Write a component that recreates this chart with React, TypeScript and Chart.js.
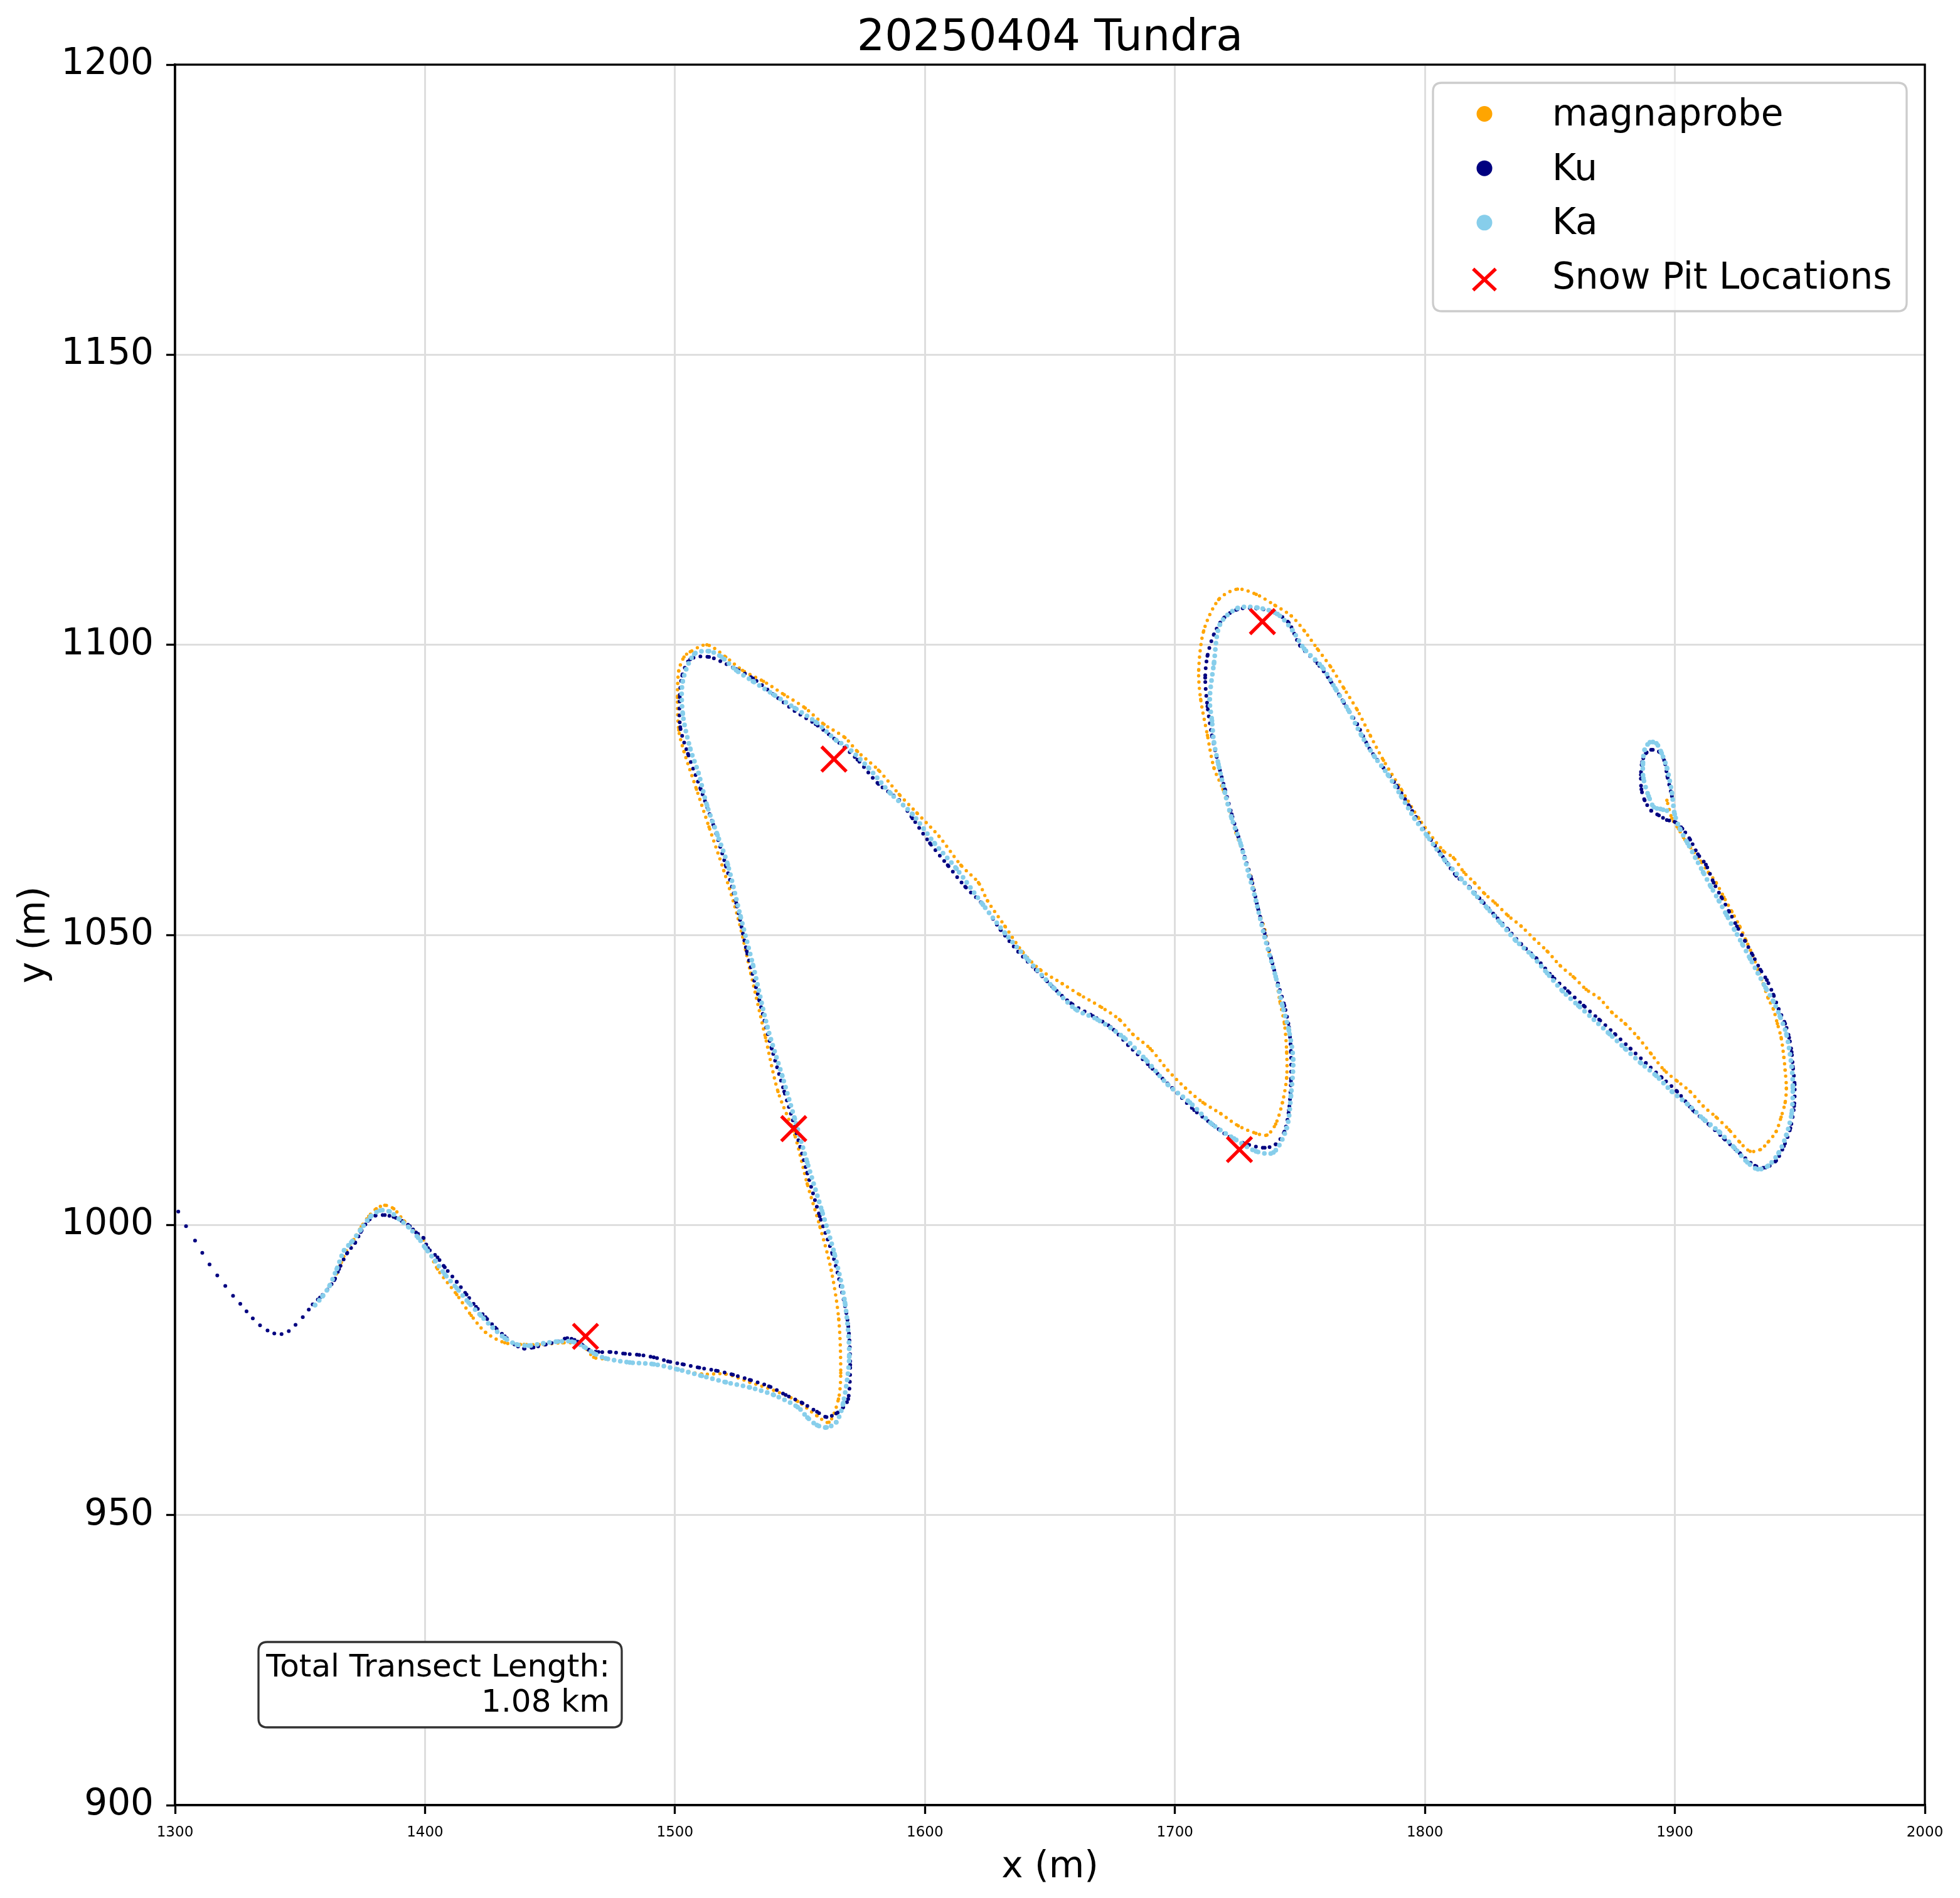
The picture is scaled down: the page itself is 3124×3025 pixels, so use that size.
import React, { useEffect, useRef } from "react";
import { Chart, registerables } from "chart.js";

Chart.register(...registerables);

const chartTitle = "20250404 Tundra";
const xAxisLabel = "x (m)";
const yAxisLabel = "y (m)";
const xTickValues = [1300, 1400, 1500, 1600, 1700, 1800, 1900, 2000];
const yTickValues = [900, 950, 1000, 1050, 1100, 1150, 1200];
const seriesNames = ["magnaprobe", "Ku", "Ka", "Snow Pit Locations"];
const seriesColors = ["#FFA500", "#000080", "#87CEEB", "#FF0000"];
const annotationLines = ["Total Transect Length:", "1.08 km"];

const magnaprobeTrack: [number, number][] = [
  [1360.8, 988.8], [1363.5, 990.5], [1366.0, 993.0], [1368.5, 995.5], [1371.5, 997.5], [1374.5, 999.7],
  [1377.5, 1001.5], [1380.5, 1002.8], [1383.9, 1003.4], [1387.5, 1002.8], [1391.6, 1000.7], [1395.5, 999.0],
  [1399.3, 997.4], [1405.0, 992.4], [1412.7, 988.0], [1418.5, 984.4], [1424.2, 981.5], [1431.9, 979.7],
  [1439.6, 979.4], [1447.3, 979.4], [1455.0, 979.7], [1462.7, 979.4], [1467.5, 977.2], [1472.3, 976.9],
  [1481.9, 976.3], [1491.5, 976.0], [1501.1, 975.2], [1510.7, 974.3], [1520.3, 974.3], [1529.9, 972.9],
  [1539.5, 971.5], [1549.1, 969.6], [1556.8, 967.1], [1561.6, 966.0], [1565.4, 970.0], [1566.3, 974.5],
  [1565.5, 983.8], [1562.5, 992.2], [1558.0, 999.7], [1552.9, 1007.1], [1547.9, 1015.5], [1541.2, 1023.0],
  [1536.2, 1032.3], [1530.3, 1043.4], [1525.3, 1052.8], [1519.5, 1061.1], [1513.6, 1068.6], [1508.6, 1075.1],
  [1503.6, 1081.6], [1501.5, 1085.3], [1501.0, 1090.9], [1501.5, 1095.5], [1503.6, 1097.9], [1506.1, 1098.8],
  [1512.8, 1100.0], [1520.3, 1097.9], [1527.0, 1095.6], [1535.4, 1093.7], [1543.7, 1091.4], [1552.1, 1089.1],
  [1559.6, 1086.3], [1568.0, 1084.0], [1573.0, 1081.6], [1581.4, 1078.4], [1589.7, 1074.2], [1596.8, 1071.0],
  [1605.6, 1067.0], [1614.4, 1062.0], [1621.4, 1059.0], [1625.0, 1055.9], [1632.0, 1051.5], [1639.0, 1047.1],
  [1646.1, 1044.0], [1654.9, 1041.6], [1661.9, 1039.7], [1670.7, 1037.5], [1677.8, 1035.4], [1683.1, 1032.9],
  [1690.1, 1030.4], [1697.1, 1026.7], [1704.2, 1023.6], [1711.2, 1021.1], [1718.3, 1019.2], [1725.3, 1017.1],
  [1732.4, 1015.8], [1736.8, 1015.5], [1740.3, 1017.4], [1743.0, 1021.1], [1744.7, 1025.4], [1744.7, 1029.8],
  [1743.8, 1034.7], [1742.0, 1038.5], [1740.3, 1042.8], [1737.6, 1047.1], [1735.9, 1050.9], [1733.2, 1054.6],
  [1730.6, 1059.6], [1728.0, 1063.3], [1724.4, 1067.6], [1721.8, 1071.3], [1719.2, 1075.1], [1715.6, 1078.8],
  [1713.0, 1084.4], [1710.3, 1090.6], [1709.5, 1095.6], [1711.5, 1102.4], [1717.5, 1107.8], [1725.0, 1109.6],
  [1732.5, 1108.7], [1740.0, 1106.8], [1746.5, 1105.0], [1751.8, 1102.4], [1757.0, 1099.3], [1762.3, 1096.2],
  [1767.6, 1092.5], [1772.9, 1088.8], [1778.1, 1084.4], [1783.4, 1080.1], [1790.5, 1075.1], [1797.5, 1070.1],
  [1807.3, 1064.5], [1811.4, 1063.3], [1815.6, 1060.8], [1819.8, 1059.0], [1823.9, 1057.1], [1828.1, 1055.5],
  [1833.3, 1053.3], [1838.5, 1051.5], [1843.7, 1049.3], [1848.9, 1047.2], [1854.1, 1044.7], [1859.3, 1042.8],
  [1864.5, 1040.6], [1869.7, 1039.1], [1874.9, 1036.6], [1880.1, 1034.7], [1885.3, 1032.3], [1890.5, 1029.5],
  [1895.7, 1026.7], [1900.9, 1024.8], [1906.1, 1023.0], [1911.3, 1020.5], [1916.5, 1018.6], [1921.7, 1016.4],
  [1925.9, 1014.3], [1930.1, 1012.7], [1934.2, 1013.0], [1937.3, 1014.3], [1940.5, 1016.1], [1942.5, 1018.6],
  [1944.1, 1021.1], [1944.6, 1023.6], [1944.1, 1026.7], [1943.6, 1028.9], [1942.5, 1032.3], [1941.0, 1034.7],
  [1939.4, 1037.2], [1937.3, 1039.1], [1935.3, 1041.6], [1933.2, 1044.0], [1931.1, 1046.5], [1928.5, 1049.0],
  [1925.9, 1051.5], [1922.8, 1054.0], [1919.6, 1056.5], [1916.5, 1059.0], [1913.4, 1060.8], [1910.3, 1062.7],
  [1907.2, 1064.5], [1904.0, 1066.4], [1901.4, 1068.3], [1898.8, 1070.1], [1896.8, 1073.2],
];

const kuTrack: [number, number][] = [
  [1301.3, 1002.3], [1304.4, 999.8], [1308.0, 997.3], [1310.9, 995.2], [1313.8, 993.2], [1316.9, 991.3],
  [1320.1, 989.5], [1323.2, 987.8], [1326.1, 986.4], [1328.6, 985.1], [1331.1, 983.9], [1334.0, 982.7],
  [1337.0, 981.8], [1339.7, 981.3], [1342.6, 981.2], [1345.5, 981.7], [1348.2, 982.8], [1351.1, 984.1],
  [1353.5, 985.4], [1355.1, 986.3], [1358.0, 987.5], [1360.8, 988.8], [1363.7, 990.5], [1365.6, 992.4],
  [1368.9, 995.2], [1372.0, 996.9], [1374.3, 998.8], [1377.2, 1000.7], [1380.1, 1001.6], [1383.9, 1001.7],
  [1387.4, 1001.4], [1390.6, 1000.7], [1393.9, 999.8], [1396.4, 998.7], [1399.3, 997.8], [1401.2, 996.0],
  [1405.0, 994.4], [1407.9, 992.7], [1412.7, 990.2], [1416.6, 988.0], [1420.4, 985.9], [1424.2, 984.1],
  [1428.1, 982.3], [1431.9, 980.8], [1435.8, 979.4], [1439.6, 978.7], [1443.4, 978.9], [1448.3, 979.4],
  [1453.0, 979.9], [1456.9, 980.5], [1459.8, 980.2], [1462.7, 979.4], [1465.5, 978.5], [1469.4, 978.1],
  [1474.2, 978.1], [1480.0, 977.8], [1485.7, 977.6], [1491.5, 977.2], [1497.2, 976.5], [1503.0, 976.0],
  [1509.7, 975.4], [1516.4, 974.9], [1523.2, 974.2], [1529.9, 973.3], [1537.6, 972.2], [1544.3, 970.7],
  [1551.0, 969.3], [1556.8, 967.8], [1560.6, 966.9], [1564.5, 967.5], [1567.3, 968.6], [1569.3, 970.0],
  [1570.1, 975.9], [1569.2, 983.0], [1566.3, 989.4], [1563.0, 995.0], [1557.9, 1001.5], [1552.9, 1009.0],
  [1547.9, 1016.9], [1543.7, 1023.0], [1538.7, 1030.4], [1533.7, 1038.8], [1528.7, 1047.2], [1524.5, 1055.5],
  [1520.3, 1062.0], [1515.3, 1069.0], [1510.3, 1075.1], [1505.2, 1081.2], [1502.1, 1085.8], [1501.9, 1091.0],
  [1502.9, 1094.7], [1506.1, 1097.5], [1513.6, 1097.9], [1524.5, 1095.8], [1531.2, 1094.2], [1539.5, 1091.4],
  [1547.9, 1088.6], [1556.3, 1086.3], [1564.6, 1083.5], [1573.0, 1080.2], [1581.4, 1076.0], [1589.7, 1073.2],
  [1595.0, 1070.1], [1602.0, 1065.8], [1609.1, 1062.0], [1616.1, 1058.3], [1623.2, 1055.2], [1630.2, 1050.9],
  [1637.3, 1047.1], [1644.3, 1044.0], [1651.4, 1040.9], [1658.4, 1038.2], [1667.2, 1036.0], [1674.3, 1034.1],
  [1681.3, 1031.0], [1690.1, 1027.3], [1698.9, 1023.6], [1707.7, 1019.8], [1714.8, 1017.4], [1721.8, 1015.2],
  [1728.8, 1013.9], [1735.9, 1013.3], [1740.3, 1013.9], [1743.8, 1016.1], [1745.6, 1019.8], [1746.4, 1024.8],
  [1746.4, 1029.8], [1745.6, 1034.1], [1743.8, 1037.8], [1741.2, 1041.6], [1738.5, 1045.9], [1735.9, 1050.3],
  [1733.2, 1054.6], [1730.6, 1059.6], [1728.0, 1063.3], [1725.3, 1067.0], [1722.7, 1070.8], [1720.0, 1075.1],
  [1717.4, 1079.4], [1714.8, 1084.4], [1713.0, 1089.4], [1712.1, 1094.3], [1713.0, 1098.1], [1715.6, 1101.8],
  [1719.5, 1104.6], [1725.0, 1106.1], [1732.5, 1106.3], [1740.0, 1105.5], [1745.5, 1103.8], [1750.0, 1099.9],
  [1757.0, 1096.8], [1762.3, 1093.7], [1767.6, 1090.0], [1772.9, 1086.3], [1778.1, 1081.9], [1783.4, 1078.8],
  [1788.7, 1075.7], [1794.0, 1072.0], [1799.3, 1068.3], [1806.3, 1064.0], [1812.5, 1060.2], [1817.7, 1058.3],
  [1822.9, 1055.8], [1828.1, 1053.3], [1833.3, 1050.9], [1838.5, 1048.4], [1844.7, 1045.9], [1851.0, 1042.8],
  [1857.2, 1040.3], [1863.5, 1037.8], [1869.7, 1035.4], [1876.0, 1032.9], [1882.2, 1030.4], [1888.4, 1027.9],
  [1894.7, 1025.4], [1900.9, 1023.0], [1907.2, 1019.8], [1913.4, 1017.4], [1919.6, 1014.9], [1925.9, 1012.4],
  [1932.1, 1010.2], [1936.3, 1009.9], [1940.5, 1011.1], [1943.6, 1013.6], [1946.2, 1016.7], [1947.7, 1020.5],
  [1947.9, 1024.2], [1947.2, 1027.3], [1946.7, 1029.8], [1945.7, 1032.3], [1944.1, 1034.7], [1941.5, 1037.2],
  [1939.4, 1039.7], [1936.8, 1042.2], [1934.2, 1044.0], [1931.1, 1046.5], [1928.0, 1049.0], [1924.8, 1051.5],
  [1921.7, 1054.0], [1918.6, 1056.5], [1915.5, 1059.0], [1912.4, 1062.1], [1909.2, 1063.9], [1906.1, 1066.4],
  [1903.0, 1068.3], [1899.9, 1069.5], [1896.8, 1069.8], [1893.6, 1070.6], [1890.5, 1071.4], [1887.9, 1073.2],
  [1886.6, 1075.1], [1886.4, 1077.6], [1886.9, 1079.8], [1888.4, 1081.3], [1890.5, 1081.9], [1893.6, 1081.6],
  [1895.7, 1080.1], [1897.0, 1077.3], [1898.8, 1073.9],
];

const kaTrack: [number, number][] = [
  [1356.0, 986.2], [1359.0, 987.7], [1361.8, 989.5], [1364.7, 992.4], [1367.6, 995.6], [1370.5, 997.0],
  [1374.3, 999.2], [1378.1, 1001.4], [1382.0, 1002.5], [1385.8, 1002.3], [1389.7, 1001.0], [1393.5, 999.6],
  [1397.3, 997.8], [1400.2, 996.0], [1404.1, 993.8], [1407.9, 991.5], [1412.7, 989.1], [1417.5, 986.6],
  [1422.3, 984.4], [1427.1, 982.3], [1431.9, 980.5], [1436.7, 979.4], [1441.5, 979.2], [1447.3, 979.6],
  [1453.0, 979.9], [1458.8, 979.9], [1463.6, 979.0], [1467.5, 977.9], [1472.3, 977.0], [1481.9, 976.3],
  [1491.5, 976.0], [1501.1, 975.1], [1510.7, 974.0], [1520.3, 972.9], [1529.9, 972.0], [1539.5, 970.7],
  [1549.1, 968.6], [1553.0, 966.8], [1556.8, 965.5], [1560.6, 965.1], [1564.5, 966.0], [1567.3, 969.3],
  [1569.7, 977.3], [1568.0, 986.6], [1563.8, 995.0], [1558.8, 1002.4], [1552.9, 1010.8], [1547.9, 1018.3],
  [1542.9, 1025.7], [1537.0, 1034.1], [1531.2, 1044.8], [1526.2, 1053.2], [1521.1, 1062.1], [1517.0, 1067.2],
  [1512.8, 1072.3], [1509.4, 1077.9], [1506.1, 1082.1], [1503.1, 1088.1], [1503.1, 1093.7], [1507.7, 1098.4],
  [1513.6, 1098.9], [1518.6, 1097.9], [1524.5, 1095.6], [1531.2, 1093.7], [1539.5, 1091.4], [1547.9, 1089.1],
  [1556.3, 1086.7], [1564.6, 1083.5], [1568.6, 1082.5], [1577.4, 1078.8], [1586.2, 1074.4], [1595.0, 1070.8],
  [1603.8, 1065.8], [1612.6, 1061.4], [1623.2, 1055.2], [1632.0, 1050.3], [1640.8, 1045.9], [1651.4, 1040.9],
  [1660.2, 1037.2], [1669.0, 1035.4], [1679.5, 1032.3], [1688.3, 1028.5], [1697.1, 1024.2], [1706.0, 1021.1],
  [1714.8, 1017.4], [1723.6, 1014.9], [1732.4, 1012.7], [1739.4, 1012.5], [1744.7, 1016.7], [1746.4, 1022.3],
  [1747.3, 1028.5], [1745.6, 1033.5], [1743.0, 1037.8], [1740.3, 1042.8], [1735.9, 1049.6], [1732.4, 1055.9],
  [1729.7, 1060.2], [1726.2, 1065.8], [1722.7, 1070.1], [1720.0, 1074.5], [1717.4, 1079.4], [1715.6, 1083.2],
  [1714.8, 1086.9], [1713.9, 1090.6], [1715.6, 1096.8], [1718.0, 1103.5], [1725.0, 1106.3], [1733.0, 1106.4],
  [1741.0, 1105.3], [1747.0, 1102.5], [1751.7, 1099.3], [1758.8, 1096.2], [1764.1, 1092.5], [1769.3, 1088.8],
  [1774.6, 1084.4], [1779.9, 1080.7], [1785.2, 1077.6], [1790.5, 1073.9], [1795.8, 1070.1], [1801.0, 1067.0],
  [1808.1, 1062.8], [1814.6, 1059.6], [1819.8, 1057.1], [1825.0, 1054.6], [1830.2, 1052.1], [1836.4, 1049.0],
  [1842.7, 1046.5], [1848.9, 1043.4], [1855.1, 1040.3], [1861.4, 1037.8], [1867.6, 1035.4], [1873.9, 1032.9],
  [1880.1, 1030.4], [1886.4, 1027.9], [1892.6, 1025.7], [1898.8, 1023.0], [1905.1, 1020.8], [1911.3, 1018.3],
  [1917.6, 1016.1], [1923.8, 1013.3], [1929.0, 1010.8], [1933.2, 1009.6], [1937.3, 1010.2], [1941.5, 1012.4],
  [1944.6, 1015.5], [1946.7, 1019.2], [1947.2, 1023.6], [1946.7, 1027.3], [1944.6, 1032.9], [1942.0, 1036.0],
  [1939.4, 1038.5], [1936.3, 1040.9], [1933.2, 1043.4], [1930.1, 1045.9], [1927.0, 1048.4], [1923.8, 1050.9],
  [1920.7, 1053.4], [1917.6, 1055.9], [1914.4, 1058.3], [1911.3, 1060.8], [1908.2, 1063.3], [1905.1, 1065.8],
  [1902.0, 1068.3], [1899.9, 1070.8], [1898.8, 1074.5], [1896.8, 1078.8], [1894.7, 1081.3], [1892.6, 1083.0],
  [1890.0, 1083.2], [1887.9, 1081.9], [1887.2, 1079.4], [1887.4, 1077.0], [1889.5, 1073.9], [1891.6, 1072.0],
  [1894.2, 1071.7], [1896.8, 1071.4],
];

const snowPits: [number, number][] = [
  [1464.2, 980.8], [1547.5, 1016.6], [1563.6, 1080.3], [1725.8, 1013.0], [1735.0, 1104.0],
];

const FONT = "'DejaVu Sans', 'Liberation Sans', sans-serif";

function toPoints(arr: [number, number][]) {
  return arr.map(([x, y]) => ({ x, y }));
}

function roundRect(ctx: CanvasRenderingContext2D, x: number, y: number, w: number, h: number, r: number) {
  ctx.beginPath();
  ctx.moveTo(x + r, y);
  ctx.lineTo(x + w - r, y);
  ctx.quadraticCurveTo(x + w, y, x + w, y + r);
  ctx.lineTo(x + w, y + h - r);
  ctx.quadraticCurveTo(x + w, y + h, x + w - r, y + h);
  ctx.lineTo(x + r, y + h);
  ctx.quadraticCurveTo(x, y + h, x, y + h - r);
  ctx.lineTo(x, y + r);
  ctx.quadraticCurveTo(x, y, x + r, y);
  ctx.closePath();
}

const decorPlugin = {
  id: "decor",
  afterDraw(chart: any) {
    const ctx: CanvasRenderingContext2D = chart.ctx;
    const a = chart.chartArea;
    ctx.save();
    ctx.strokeStyle = "#000000";
    ctx.lineWidth = 3.3;
    ctx.strokeRect(a.left, a.top, a.right - a.left, a.bottom - a.top);

    const cx = (a.left + a.right) / 2;
    const cy = (a.top + a.bottom) / 2;
    ctx.fillStyle = "#000000";
    ctx.font = `70px ${FONT}`;
    ctx.textAlign = "center";
    ctx.textBaseline = "alphabetic";
    ctx.fillText(chartTitle, cx, 80);
    ctx.font = `58px ${FONT}`;
    ctx.fillText(xAxisLabel, cx, 2992);
    ctx.save();
    ctx.translate(71, cy);
    ctx.rotate(-Math.PI / 2);
    ctx.fillText(yAxisLabel, 0, 0);
    ctx.restore();

    const lx = 2284, ly = 132, lw = 755, lh = 364;
    roundRect(ctx, lx, ly, lw, lh, 14);
    ctx.fillStyle = "rgba(255,255,255,0.8)";
    ctx.fill();
    ctx.strokeStyle = "#cccccc";
    ctx.lineWidth = 3.3;
    ctx.stroke();
    const baselines = [200, 286.7, 373.3, 460];
    const mx = 2366;
    ctx.font = `58px ${FONT}`;
    ctx.textAlign = "left";
    seriesNames.forEach((name, i) => {
      const b = baselines[i];
      if (i < 3) {
        ctx.beginPath();
        ctx.arc(mx, b - 18.5, 12.5, 0, Math.PI * 2);
        ctx.fillStyle = seriesColors[i];
        ctx.fill();
      } else {
        const my = b - 14.5;
        ctx.beginPath();
        ctx.moveTo(mx - 18, my - 17);
        ctx.lineTo(mx + 18, my + 17);
        ctx.moveTo(mx + 18, my - 17);
        ctx.lineTo(mx - 18, my + 17);
        ctx.strokeStyle = seriesColors[i];
        ctx.lineWidth = 5.5;
        ctx.stroke();
      }
      ctx.fillStyle = "#000000";
      ctx.fillText(name, 2474, b);
    });

    roundRect(ctx, 412, 2617, 579, 136, 14);
    ctx.fillStyle = "#ffffff";
    ctx.fill();
    ctx.strokeStyle = "#333333";
    ctx.lineWidth = 3.3;
    ctx.stroke();
    ctx.fillStyle = "#000000";
    ctx.font = `50px ${FONT}`;
    ctx.textAlign = "right";
    ctx.fillText(annotationLines[0], 972, 2672);
    ctx.fillText(annotationLines[1], 972, 2728);
    ctx.restore();
  },
};

function trackDataset(label: string, track: [number, number][], color: string, r: number, gap: number, order: number, extra: any = {}) {
  return {
    label,
    data: toPoints(track),
    showLine: true,
    borderColor: color,
    backgroundColor: color,
    borderWidth: r * 2,
    borderDash: [0, gap],
    borderCapStyle: "round",
    borderJoinStyle: "round",
    tension: 0.3,
    pointRadius: r,
    pointBorderWidth: 0,
    pointBackgroundColor: color,
    pointHoverRadius: r,
    order,
    ...extra,
  };
}

export default function App() {
  const canvasRef = useRef<HTMLCanvasElement | null>(null);

  useEffect(() => {
    document.body.style.margin = "0";
    const canvas = canvasRef.current;
    if (!canvas) return;
    const chart = new Chart(canvas, {
      type: "scatter",
      data: {
        datasets: [
          trackDataset(seriesNames[0], magnaprobeTrack, seriesColors[0], 2.7, 10, 3),
          trackDataset(seriesNames[1], kuTrack, seriesColors[1], 3, 11, 2, {
            segment: {
              borderColor: (c: any) => (c.p1.parsed.x < 1356 ? "rgba(0,0,0,0)" : undefined),
            },
          }),
          trackDataset(seriesNames[2], kaTrack, seriesColors[2], 3.8, 10, 1),
          {
            label: seriesNames[3],
            data: toPoints(snowPits),
            showLine: false,
            pointStyle: "crossRot",
            pointRadius: 28,
            pointHoverRadius: 28,
            pointBorderWidth: 5.5,
            borderWidth: 5.5,
            pointBorderColor: seriesColors[3],
            borderColor: seriesColors[3],
            backgroundColor: seriesColors[3],
            order: 0,
          } as any,
        ] as any,
      },
      options: {
        responsive: false,
        maintainAspectRatio: false,
        devicePixelRatio: 1,
        animation: false,
        events: [],
        layout: { padding: { top: 103, right: 56, left: 0, bottom: 0 } },
        plugins: {
          legend: { display: false },
          title: { display: false },
          tooltip: { enabled: false },
        },
        scales: {
          x: {
            type: "linear",
            min: 1300,
            max: 2000,
            afterBuildTicks: (axis: any) => {
              axis.ticks = xTickValues.map((v) => ({ value: v }));
            },
            afterFit: (axis: any) => {
              axis.height = 148;
            },
            ticks: {
              autoSkip: false,
              maxRotation: 0,
              padding: 16,
              color: "#000000",
              font: { family: FONT, size: 23 },
              callback: (v: any) => String(v),
            },
            grid: {
              color: "#dedede",
              lineWidth: 3,
              tickColor: "#000000",
              tickWidth: 3.3,
              tickLength: 14,
            },
            border: { display: true, color: "#000000", width: 3.3 },
          },
          y: {
            type: "linear",
            min: 900,
            max: 1200,
            afterBuildTicks: (axis: any) => {
              axis.ticks = yTickValues.map((v) => ({ value: v }));
            },
            afterFit: (axis: any) => {
              axis.width = 279;
            },
            ticks: {
              autoSkip: false,
              padding: 20,
              color: "#000000",
              font: { family: FONT, size: 58 },
              callback: (v: any) => String(v),
            },
            grid: {
              color: "#dedede",
              lineWidth: 3,
              tickColor: "#000000",
              tickWidth: 3.3,
              tickLength: 14,
            },
            border: { display: true, color: "#000000", width: 3.3 },
          },
        },
      } as any,
      plugins: [decorPlugin],
    });
    return () => chart.destroy();
  }, []);

  return (
    <div style={{ width: 3124, height: 3025, background: "#ffffff" }}>
      <canvas ref={canvasRef} width={3124} height={3025} style={{ display: "block", width: 3124, height: 3025 }} />
    </div>
  );
}
